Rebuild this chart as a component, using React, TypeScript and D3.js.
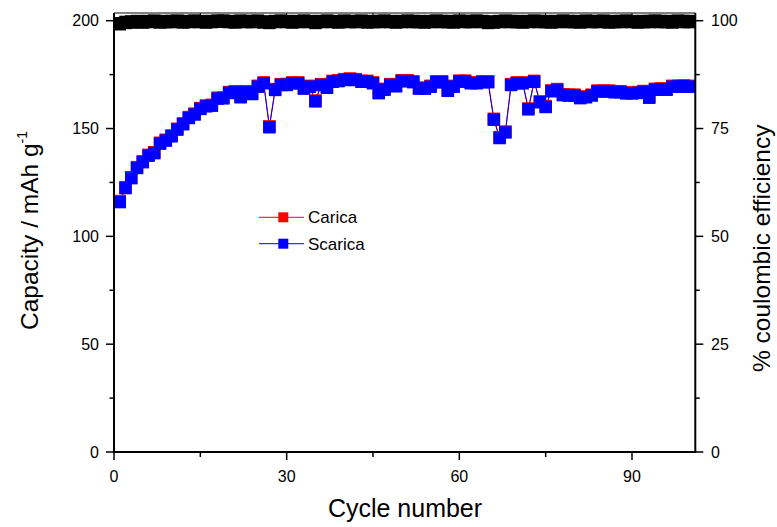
import React from "react";
import * as d3 from "d3";

const cycles: number[] = Array.from({ length: 100 }, (_, i) => i + 1);

const scarica: number[] = [
  115.9, 122.4, 127.0, 131.7, 134.4, 137.4, 138.6, 143.0, 144.4, 146.4,
  149.5, 152.0, 154.9, 156.5, 159.1, 160.3, 160.6, 163.9, 164.0, 166.5,
  166.9, 164.5, 166.9, 166.0, 169.4, 171.0, 150.6, 167.9, 170.2, 170.2,
  171.0, 171.0, 168.5, 169.4, 162.6, 170.2, 168.9, 171.7, 172.0, 172.5,
  172.8, 172.5, 171.7, 171.7, 171.0, 166.4, 168.0, 170.2, 169.6, 172.0,
  172.0, 171.5, 168.5, 168.5, 169.4, 171.5, 171.5, 167.5, 169.4, 171.8,
  171.8, 171.0, 171.0, 171.5, 171.5, 154.1, 145.6, 148.2, 170.2, 171.0,
  171.0, 158.9, 171.7, 162.2, 160.0, 167.3, 167.9, 165.5, 165.3, 165.3,
  164.1, 164.5, 165.3, 167.2, 167.2, 167.2, 166.8, 166.9, 166.3, 166.3,
  166.5, 167.0, 164.3, 168.0, 168.2, 168.0, 169.4, 169.4, 169.6, 169.4,
];

const carica: number[] = [
  116.4, 122.8, 127.4, 132.1, 134.8, 137.8, 139.0, 143.4, 144.8, 146.8,
  149.9, 152.4, 155.3, 156.9, 159.5, 160.7, 161.0, 164.3, 164.4, 166.9,
  167.3, 164.9, 167.3, 166.4, 169.8, 171.4, 151.0, 168.3, 170.6, 170.6,
  171.4, 171.4, 168.9, 169.8, 163.0, 170.6, 169.3, 172.1, 172.4, 172.9,
  173.2, 172.9, 172.1, 172.1, 171.4, 166.8, 168.4, 170.6, 170.0, 172.4,
  172.4, 171.9, 168.9, 168.9, 169.8, 171.9, 171.9, 167.9, 169.8, 172.2,
  172.2, 171.4, 171.4, 171.9, 171.9, 154.5, 146.0, 148.6, 170.6, 171.4,
  171.4, 159.3, 172.1, 162.6, 160.4, 167.7, 168.3, 165.9, 165.7, 165.7,
  164.5, 164.9, 165.7, 167.6, 167.6, 167.6, 167.2, 167.3, 166.7, 166.7,
  166.9, 167.4, 164.7, 168.4, 168.6, 168.4, 169.8, 169.8, 170.0, 169.8,
];

const efficiency: number[] = [
  99.3, 99.6, 99.7, 99.8, 99.7, 99.8, 99.9, 99.7, 99.8, 99.8,
  99.9, 99.7, 99.8, 99.9, 99.8, 99.7, 99.8, 99.9, 99.9, 99.8,
  99.7, 99.9, 99.8, 99.8, 99.9, 99.7, 99.6, 99.8, 99.9, 99.8,
  99.7, 99.8, 99.9, 99.8, 99.6, 99.8, 99.9, 99.8, 99.7, 99.9,
  99.8, 99.8, 99.9, 99.7, 99.8, 99.8, 99.9, 99.8, 99.7, 99.8,
  99.9, 99.8, 99.8, 99.7, 99.8, 99.9, 99.8, 99.8, 99.7, 99.9,
  99.8, 99.8, 99.9, 99.8, 99.6, 99.7, 99.8, 99.9, 99.8, 99.8,
  99.7, 99.8, 99.9, 99.8, 99.8, 99.7, 99.8, 99.9, 99.8, 99.8,
  99.7, 99.9, 99.8, 99.8, 99.9, 99.7, 99.8, 99.8, 99.9, 99.8,
  99.7, 99.8, 99.8, 99.9, 99.8, 99.8, 99.7, 99.9, 99.8, 99.8,
];

const xTicks: number[] = [0, 30, 60, 90];
const xMinorTicks: number[] = [15, 45, 75];
const yLeftTicks: number[] = [0, 50, 100, 150, 200];
const yLeftMinor: number[] = [25, 75, 125, 175];
const yRightTicks: number[] = [0, 25, 50, 75, 100];
const yRightMinor: number[] = [12.5, 37.5, 62.5, 87.5];
const seriesNames: string[] = ["Carica", "Scarica"];

const FONT = "'Liberation Sans', Arial, Helvetica, sans-serif";

export default function App() {
  const W = 777;
  const H = 527;
  const left = 114;
  const right = 695.3;
  const top = 13;
  const bottom = 452;

  const x = d3.scaleLinear().domain([0, 101]).range([left, right]);
  const yL = d3.scaleLinear().domain([0, (bottom - top) / 2.1565]).range([bottom, top]);
  const yR = d3.scaleLinear().domain([0, (bottom - top) / 4.313]).range([bottom, top]);

  const ms = 12.5;
  const lineRed = d3.line<number>().x((_, i) => x(cycles[i])).y((d) => yL(d))(carica) || "";
  const lineBlue = d3.line<number>().x((_, i) => x(cycles[i])).y((d) => yL(d))(scarica) || "";

  const legendX1 = 259;
  const legendX2 = 304;
  const legendMid = 283.3;
  const legendY = [217.3, 243.7];
  const legendColors = ["#ff0000", "#0000ff"];

  return (
    <svg
      width={W}
      height={H}
      style={{ position: "absolute", left: 0, top: 0, background: "#fff" }}
      fontFamily={FONT}
    >
      <rect x={0} y={0} width={W} height={H} fill="#fff" />

      {/* efficiency squares */}
      <g>
        {efficiency.map((v, i) => (
          <rect
            key={"e" + i}
            x={x(cycles[i]) - ms / 2}
            y={yR(v) - ms / 2 - 0.5}
            width={ms}
            height={ms + 1}
            fill="#000"
          />
        ))}
      </g>

      {/* lines */}
      <path d={lineRed} fill="none" stroke="#ff0000" strokeWidth={1} />
      <path d={lineBlue} fill="none" stroke="#0000ff" strokeWidth={1} />

      {/* carica squares */}
      <g>
        {carica.map((v, i) => (
          <rect
            key={"c" + i}
            x={x(cycles[i]) - ms / 2}
            y={yL(v) - ms / 2}
            width={ms}
            height={ms}
            fill="#ff0000"
          />
        ))}
      </g>
      {/* scarica squares */}
      <g>
        {scarica.map((v, i) => (
          <rect
            key={"s" + i}
            x={x(cycles[i]) - ms / 2}
            y={yL(v) - ms / 2}
            width={ms}
            height={ms}
            fill="#0000ff"
          />
        ))}
      </g>

      {/* frame */}
      <line x1={left} x2={right} y1={top} y2={top} stroke="#000" strokeWidth={1} />
      <line x1={left} x2={left} y1={top} y2={bottom} stroke="#000" strokeWidth={2} />
      <line x1={right} x2={right} y1={top} y2={bottom} stroke="#000" strokeWidth={2} />
      <line x1={left - 1} x2={right + 1} y1={bottom} y2={bottom} stroke="#000" strokeWidth={2} />

      {/* bottom axis ticks */}
      {xTicks.map((t) => (
        <g key={"xt" + t}>
          <line x1={x(t)} x2={x(t)} y1={bottom} y2={bottom + 8} stroke="#000" strokeWidth={1.5} />
          <line x1={x(t)} x2={x(t)} y1={top} y2={top + 5} stroke="#000" strokeWidth={1} />
          <text x={x(t)} y={482} fontSize={16} textAnchor="middle" fill="#000">
            {t}
          </text>
        </g>
      ))}
      {xMinorTicks.map((t) => (
        <g key={"xm" + t}>
          <line x1={x(t)} x2={x(t)} y1={bottom} y2={bottom + 5} stroke="#000" strokeWidth={1.5} />
          <line x1={x(t)} x2={x(t)} y1={top} y2={top + 3} stroke="#000" strokeWidth={1} />
        </g>
      ))}

      {/* left axis */}
      {yLeftTicks.map((t) => (
        <g key={"yl" + t}>
          <line x1={left - 8} x2={left} y1={yL(t)} y2={yL(t)} stroke="#000" strokeWidth={1.5} />
          <text x={99} y={yL(t) + 5.5} fontSize={16} textAnchor="end" fill="#000">
            {t}
          </text>
        </g>
      ))}
      {yLeftMinor.map((t) => (
        <line key={"ylm" + t} x1={left - 4.5} x2={left} y1={yL(t)} y2={yL(t)} stroke="#000" strokeWidth={1.5} />
      ))}

      {/* right axis */}
      {yRightTicks.map((t) => (
        <g key={"yr" + t}>
          <line x1={right} x2={right + 8} y1={yR(t)} y2={yR(t)} stroke="#000" strokeWidth={1.5} />
          <text x={711} y={yR(t) + 5.5} fontSize={16} textAnchor="start" fill="#000">
            {t}
          </text>
        </g>
      ))}
      {yRightMinor.map((t) => (
        <line key={"yrm" + t} x1={right} x2={right + 4.5} y1={yR(t)} y2={yR(t)} stroke="#000" strokeWidth={1.5} />
      ))}

      {/* axis titles */}
      <text x={405} y={517} fontSize={25} textAnchor="middle" fill="#000">
        Cycle number
      </text>
      <text
        transform={`translate(37.5, 330) rotate(-90)`}
        fontSize={24.5}
        textAnchor="start"
        fill="#000"
      >
        Capacity / mAh g
        <tspan fontSize={14} dy={-11}>-1</tspan>
      </text>
      <text
        transform={`translate(770, 372) rotate(-90)`}
        fontSize={24.5}
        textAnchor="start"
        fill="#000"
      >
        % coulombic efficiency
      </text>

      {/* legend */}
      {seriesNames.map((n, i) => (
        <g key={"lg" + n}>
          <line
            x1={legendX1}
            x2={legendX2}
            y1={legendY[i]}
            y2={legendY[i]}
            stroke={legendColors[i]}
            strokeWidth={1}
          />
          <rect x={legendMid - 5} y={legendY[i] - 5} width={10} height={10} fill={legendColors[i]} />
          <text x={308} y={legendY[i] + 6} fontSize={17} fill="#000">
            {n}
          </text>
        </g>
      ))}
    </svg>
  );
}
